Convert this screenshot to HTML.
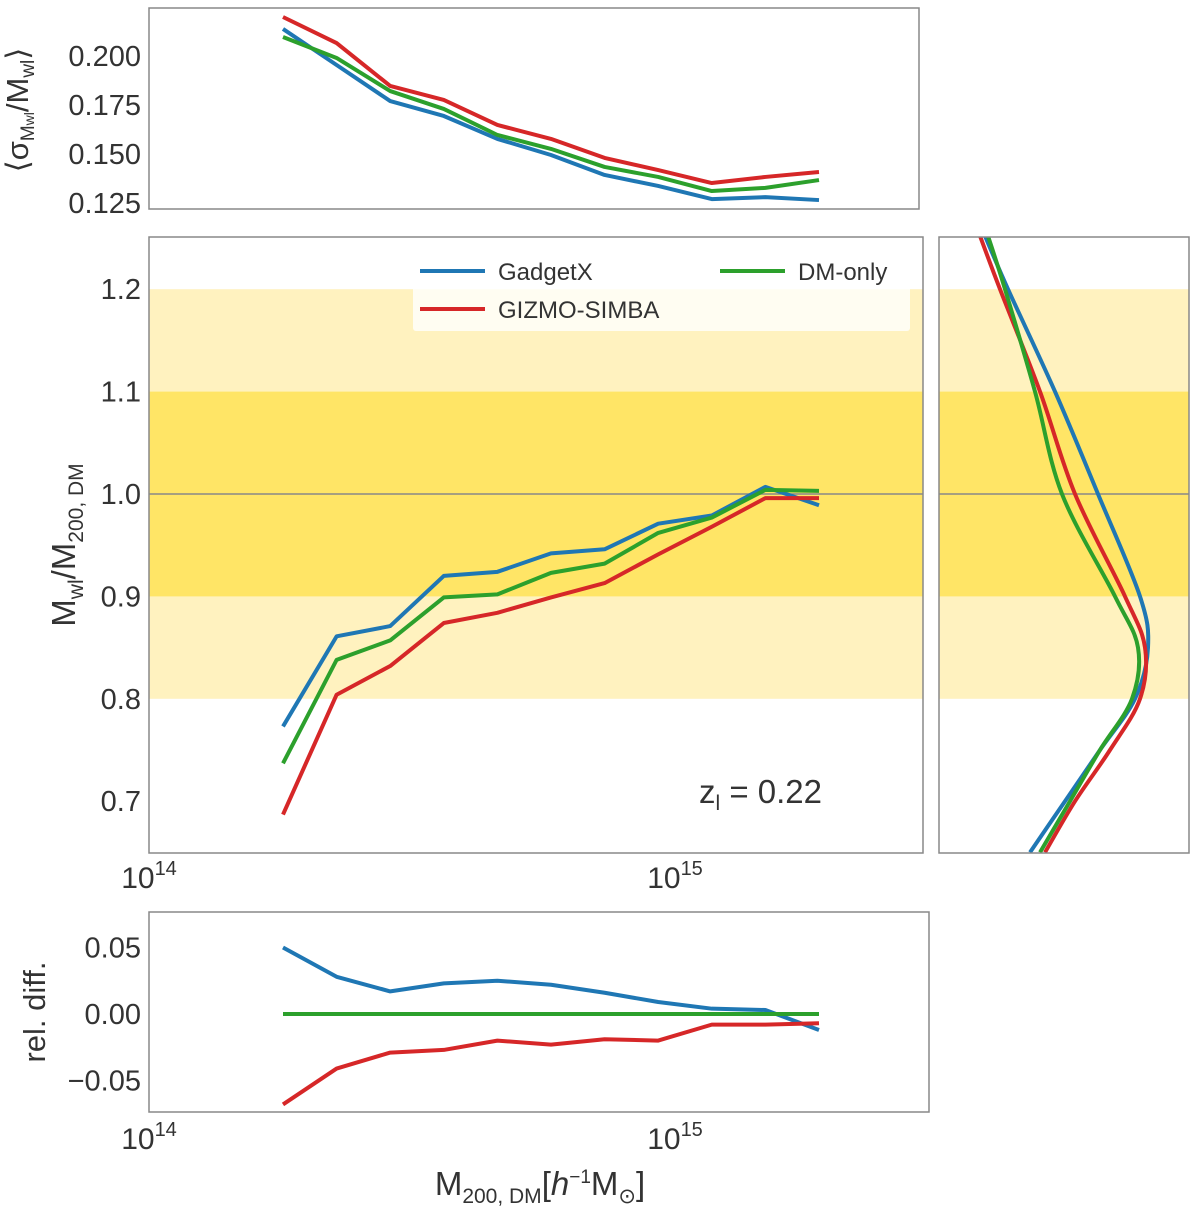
<!DOCTYPE html>
<html><head><meta charset="utf-8"><style>
body{margin:0;background:#fff;}
svg text{font-family:"Liberation Sans","DejaVu Sans",sans-serif;fill:#333;}
</style></head><body>
<svg id="c" width="1198" height="1216" xmlns="http://www.w3.org/2000/svg"></svg>
<script>
const logMass=[14.25,14.35,14.45,14.55,14.65,14.75,14.85,14.95,15.05,15.15,15.25];
const sigGadget=[0.2138,0.1954,0.177,0.1694,0.1577,0.1495,0.1393,0.1337,0.127,0.128,0.1265];
const sigGizmo=[0.2199,0.2066,0.1847,0.1776,0.1648,0.1577,0.148,0.1418,0.1352,0.1383,0.1408];
const sigDM=[0.2097,0.199,0.1821,0.173,0.1597,0.1526,0.1434,0.1383,0.1311,0.1327,0.1367];
const ratGadget=[0.773,0.861,0.871,0.920,0.924,0.942,0.946,0.971,0.979,1.007,0.989];
const ratGizmo=[0.687,0.804,0.832,0.874,0.884,0.899,0.913,0.941,0.968,0.996,0.996];
const ratDM=[0.737,0.838,0.857,0.899,0.902,0.923,0.932,0.962,0.977,1.004,1.003];
const relGadget=[0.05,0.028,0.017,0.023,0.025,0.022,0.016,0.009,0.004,0.003,-0.012];
const relGizmo=[-0.068,-0.041,-0.029,-0.027,-0.02,-0.023,-0.019,-0.02,-0.008,-0.008,-0.007];
const relDM=[0,0,0,0,0,0,0,0,0,0,0];
const distY=[1.252,1.2,1.1,1.0,0.9,0.85,0.8,0.75,0.7,0.65];
const distGadget=[46,69,116,159,201,209,196,161,126,91];
const distGizmo=[41,61,101,136,186,206,201,171,136,106];
const distDM=[49,66,96,123,176,199,193,161,131,101];
const topTicks=[0.125,0.150,0.175,0.200];
const mainTicks=[0.7,0.8,0.9,1.0,1.1,1.2];
const relTicks=[-0.05,0.00,0.05];
const C={b:'#1f77b4',r:'#d62728',g:'#2ca02c'};
const svg=document.getElementById('c');
const NS='http://www.w3.org/2000/svg';
function mk(t,a,p){const e=document.createElementNS(NS,t);for(const k in a)e.setAttribute(k,a[k]);(p||svg).appendChild(e);return e;}
const X=v=>149+(v-14)*536;
const Yt=v=>56-(v-0.2)/0.025*49;
const Ym=v=>494-(v-1.0)/0.1*102.4;
const Yr=v=>1014-v/0.05*66.5;
function poly(xs,ys,fy,col,name){const p=mk('polyline',{points:xs.map((x,i)=>X(x)+','+fy(ys[i])).join(' '),fill:'none',stroke:col,'stroke-width':4,'stroke-linejoin':'round'});

}
function frame(x,y,w,h,name){const r=mk('rect',{x,y,width:w,height:h,fill:'none',stroke:'#888','stroke-width':1.5});

}
function txt(x,y,s,size,anchor,name,extra){const t=mk('text',Object.assign({x,y,'font-size':size,'text-anchor':anchor||'middle'},extra||{}));t.innerHTML=s;

return t;}
// top panel
topTicks.forEach(v=>txt(141,Yt(v)+10,v.toFixed(3),29,'end','top-y-tick'));
poly(logMass,sigGadget,Yt,C.b,'top-gadgetx-line');
poly(logMass,sigGizmo,Yt,C.r,'top-gizmo-line');
poly(logMass,sigDM,Yt,C.g,'top-dmonly-line');
frame(149,8,770,201,'top-panel-frame');
txt(28,110,'⟨σ<tspan font-size="19" dy="6">M<tspan font-size="14">wl</tspan></tspan><tspan dy="-6">/M</tspan><tspan font-size="19" dy="6">wl</tspan><tspan dy="-6">⟩</tspan>',31,'middle','top-y-axis-title',{transform:'rotate(-90 28 110)'});
// main panel
mk('clipPath',{id:'cs'}).appendChild(mk('rect',{x:939,y:237,width:250,height:616}));
[[149,774],[939,250]].forEach(([x,w])=>{
mk('rect',{x,y:Ym(1.2),width:w,height:Ym(0.8)-Ym(1.2),fill:'#fff2bf'});
mk('rect',{x,y:Ym(1.1),width:w,height:Ym(0.9)-Ym(1.1),fill:'#ffe566'});
mk('line',{x1:x,x2:x+w,y1:Ym(1),y2:Ym(1),stroke:'#888','stroke-width':1.5});});
mainTicks.forEach(v=>txt(141,Ym(v)+10,v.toFixed(1),29,'end','main-y-tick'));
poly(logMass,ratGadget,Ym,C.b,'main-gadgetx-line');
poly(logMass,ratGizmo,Ym,C.r,'main-gizmo-line');
poly(logMass,ratDM,Ym,C.g,'main-dmonly-line');
frame(149,237,774,616,'main-panel-frame');
txt(75,545,'M<tspan font-size="21" dy="8">wl</tspan><tspan dy="-8">/M</tspan><tspan font-size="21" dy="8">200, DM</tspan>',33,'middle','main-y-axis-title',{transform:'rotate(-90 75 545)'});
txt(149,888,'10<tspan font-size="20" dy="-13">14</tspan>',30,'middle','main-x-tick');
txt(675,888,'10<tspan font-size="20" dy="-13">15</tspan>',30,'middle','main-x-tick');
txt(822,803,'z<tspan font-size="21" dy="7">l</tspan><tspan dy="-7"> = 0.22</tspan>',33,'end','redshift-label');
// legend
const lg=mk('rect',{x:413,y:250,width:497,height:81,fill:'#fff',opacity:0.8,rx:3});


[[420,271,C.b,'GadgetX'],[420,309,C.r,'GIZMO-SIMBA'],[720,271,C.g,'DM-only']].forEach(([x,y,c,s])=>{
mk('line',{x1:x,x2:x+65,y1:y,y2:y,stroke:c,'stroke-width':4});txt(x+78,y+9,s,24,'start','legend-entry');});
// side panel
function curve(ds,col,name){let pts=ds.map((d,i)=>[939+d,Ym(distY[i])]);let s='M'+pts[0];
for(let i=0;i<pts.length-1;i++){const p0=pts[Math.max(0,i-1)],p1=pts[i],p2=pts[i+1],p3=pts[Math.min(pts.length-1,i+2)];
s+=' C'+(p1[0]+(p2[0]-p0[0])/6)+','+(p1[1]+(p2[1]-p0[1])/6)+' '+(p2[0]-(p3[0]-p1[0])/6)+','+(p2[1]-(p3[1]-p1[1])/6)+' '+p2;}
const p=mk('path',{d:s,fill:'none',stroke:col,'stroke-width':4,'clip-path':'url(#cs)'});

}
curve(distGadget,C.b,'side-gadgetx-curve');
curve(distGizmo,C.r,'side-gizmo-curve');
curve(distDM,C.g,'side-dmonly-curve');
frame(939,237,250,616,'side-panel-frame');
// bottom panel
relTicks.forEach(v=>txt(141,Yr(v)+10,v===0?'0.00':(v<0?'−':'')+Math.abs(v).toFixed(2),29,'end','rel-y-tick'));
poly(logMass,relGadget,Yr,C.b,'rel-gadgetx-line');
poly(logMass,relGizmo,Yr,C.r,'rel-gizmo-line');
poly(logMass,relDM,Yr,C.g,'rel-dmonly-line');
frame(149,912,780,200,'rel-panel-frame');
txt(45,1012,'rel. diff.',31,'middle','rel-y-axis-title',{transform:'rotate(-90 45 1012)'});
txt(149,1149,'10<tspan font-size="20" dy="-13">14</tspan>',30,'middle','rel-x-tick');
txt(675,1149,'10<tspan font-size="20" dy="-13">15</tspan>',30,'middle','rel-x-tick');
txt(540,1195,'M<tspan font-size="21" dy="8">200, DM</tspan><tspan dy="-8">[<tspan font-style="italic">h</tspan><tspan font-size="19" dy="-12">−1</tspan><tspan dy="12">M</tspan></tspan><tspan font-size="21" dy="8">⊙</tspan><tspan dy="-8">]</tspan>',33,'middle','x-axis-title');
</script>
</body></html>
